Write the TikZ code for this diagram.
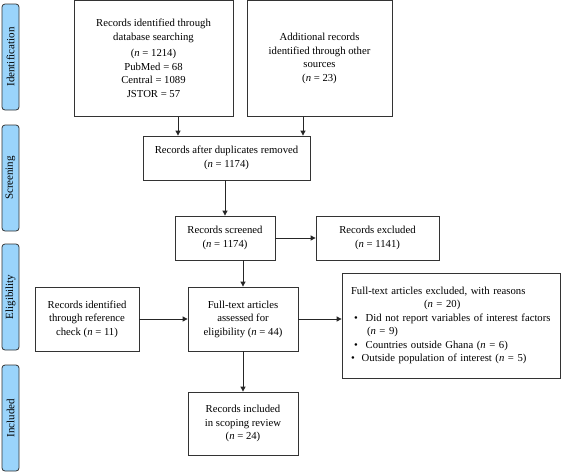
\documentclass[tikz,border=0pt]{standalone}
\usepackage{fontspec}
\setmainfont{Liberation Serif}
\usetikzlibrary{arrows.meta}
\begin{document}
\begin{tikzpicture}[x=1pt,y=-1pt,
  box/.style={draw=black!80, line width=0.8pt, fill=white, align=center, inner sep=2pt,
    font=\fontsize{10.7}{13.5}\selectfont},
  side/.style={draw=black!80, line width=0.8pt, fill=sideblue, rounded corners=3pt,
    rotate=90, minimum height=17pt, inner sep=0pt, font=\fontsize{11}{12}\selectfont},
  arr/.style={draw=black!85, line width=0.8pt, -{Triangle[length=5pt,width=5pt]}}]
\definecolor{sideblue}{HTML}{9AD4FB}
\useasboundingbox (0,0) rectangle (565,472);
% phase labels
\node[side, minimum width=106pt] (s1) at (10.5,57) {Identification};
\node[side, minimum width=106pt] (s2) at (10.5,178) {Screening};
\node[side, minimum width=106pt] (s3) at (10.5,297) {Eligibility};
\node[side, minimum width=106pt] (s4) at (10.5,418) {Included};
% boxes
\node[box, minimum width=159pt, minimum height=116pt] (b1) at (153.5,58.5)
  {Records identified through\\database searching\\[3pt]
   (\textit{n} = 1214)\\PubMed = 68\\Central = 1089\\JSTOR = 57};
\node[box, minimum width=145pt, minimum height=116pt] (b2) at (319.5,58.5)
  {Additional records\\identified through other\\sources\\(\textit{n} = 23)};
\node[box, minimum width=167pt, minimum height=44pt] (b3) at (226.5,158)
  {Records after duplicates removed\\(\textit{n} = 1174)};
\node[box, minimum width=100pt, minimum height=44pt] (b4) at (225,238)
  {Records screened\\(\textit{n} = 1174)};
\node[box, minimum width=123pt, minimum height=44pt] (b5) at (377.5,238)
  {Records excluded\\(\textit{n} = 1141)};
\node[box, minimum width=104pt, minimum height=64pt] (b6) at (87,319)
  {Records identified\\through reference\\check (\textit{n} = 11)};
\node[box, minimum width=110pt, minimum height=64pt] (b7) at (243,319)
  {Full-text articles\\assessed for\\eligibility (\textit{n} = 44)};
\node[box, minimum width=218pt, minimum height=105pt, text width=200pt, align=left] (b8) at (451,325.5)
  {Full-text articles excluded, with reasons\\
   \hspace*{73pt}(\textit{n} = 20)\\
   \hspace*{3pt}\textbullet\hspace{8pt}Did not report variables of interest factors\\
   \hspace*{16pt}(\textit{n} = 9)\\
   \hspace*{3pt}\textbullet\hspace{8pt}Countries outside Ghana (\textit{n} = 6)\\
   \textbullet\hspace{7pt}Outside population of interest (\textit{n} = 5)};
\node[box, minimum width=110pt, minimum height=63pt] (b9) at (243,423.5)
  {Records included\\in scoping review\\(\textit{n} = 24)};
% connectors
\draw[arr] (b1.south -| 178,0) -- (b3.north -| 178,0);
\draw[arr] (b2.south -| 303,0) -- (b3.north -| 303,0);
\draw[arr] (b3.south -| 225,0) -- (b4.north -| 225,0);
\draw[arr] (b4.east) -- (b5.west);
\draw[arr] (b4.south -| 243,0) -- (b7.north);
\draw[arr] (b6.east) -- (b7.west);
\draw[arr] (b7.east) -- (b8.west |- b7.east);
\draw[arr] (b7.south) -- (b9.north);
\end{tikzpicture}
\end{document}
